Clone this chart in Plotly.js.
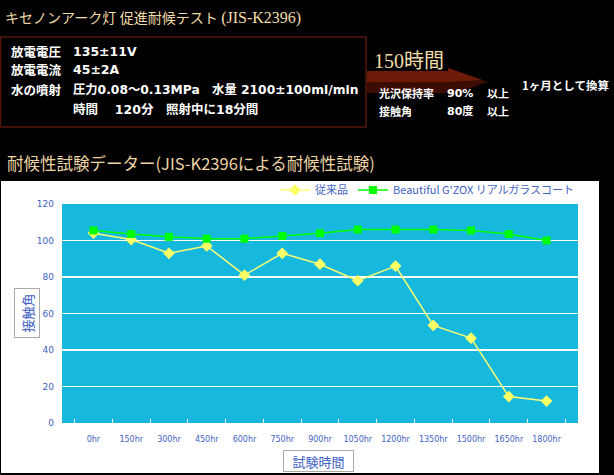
<!DOCTYPE html>
<html>
<head>
<meta charset="utf-8">
<script src="https://cdn.plot.ly/plotly-3.0.1.min.js"></script>
<style>
html,body{margin:0;padding:0;background:#000;}
#chart{width:614px;height:475px;}
</style>
</head>
<body>
<div id="chart"></div>
<script>
// ---- data ----
var categories = ['0hr','150hr','300hr','450hr','600hr','750hr','900hr','1050hr','1200hr','1350hr','1500hr','1650hr','1800hr'];
var conventional = [104, 100.5, 93, 97, 81, 93, 87, 78, 86, 53.5, 46.5, 14.5, 12];
var gzox = [105.5, 103.5, 102, 101, 101, 102.5, 104, 106, 106, 106, 105.5, 103.5, 100];
var seriesNames = ['従来品', "Beautiful G'ZOX リアルガラスコート"];
var yTicks = [0, 20, 40, 60, 80, 100, 120];

// ---- layout helpers (pixel -> paper) ----
var W = 614, H = 475;
var L = 62, R = 578, T = 204, B = 423;
function px(x){ return (x - L) / (R - L); }
function py(y){ return (B - y) / (B - T); }

var JP = 'Noto Sans CJK JP, sans-serif';
var JPW = 'DejaVu Sans, Noto Sans CJK JP, sans-serif';
var SERIF = 'Liberation Serif, DejaVu Serif, Noto Sans CJK JP, serif';
var BLUE = '#4262c4';

function txt(x, y, text, size, color, family){
  return {xref:'paper', yref:'paper', x:px(x), y:py(y), text:text, showarrow:false,
    xanchor:'left', yanchor:'middle', font:{family:family || JP, size:size, color:color}};
}

var annotations = [
  txt(3, 18, 'キセノンアーク灯 促進耐候テスト <span style="font-size:16px">(JIS-K2396)</span>', 14, '#f0dca8', SERIF),
  txt(9, 51, '<b>放電電圧</b>', 12.5, '#fff'),
  txt(71, 51, '<b>135±11V</b>', 12.5, '#fff', JPW),
  txt(9, 70, '<b>放電電流</b>', 12.5, '#fff'),
  txt(71, 70, '<b>45±2A</b>', 12.5, '#fff', JPW),
  txt(9, 90, '<b>水の噴射</b>', 12.5, '#fff'),
  txt(71, 90, '<b>圧力0.08〜0.13MPa　水量 2100±100ml/min</b>', 12.3, '#fff', JPW),
  txt(71, 109, '<b>時間　 120分　照射中に18分間</b>', 12.5, '#fff', JPW),
  txt(372, 61, '150時間', 20, '#f0dca8', SERIF),
  txt(377, 93, '<b>光沢保持率</b>', 11, '#fff'),
  txt(445, 93, '<b>90%</b>', 11, '#fff', JPW),
  txt(485, 93, '<b>以上</b>', 11, '#fff'),
  txt(377, 111, '<b>接触角</b>', 11, '#fff'),
  txt(445, 111, '<b>80度</b>', 11, '#fff', JPW),
  txt(485, 111, '<b>以上</b>', 11, '#fff'),
  txt(520, 85, '<b>1ヶ月として換算</b>', 11.5, '#fff'),
  txt(5, 163, '耐候性試験データー(JIS-K2396による耐候性試験)', 16.5, '#ecd4a4'),
  // axis titles with boxes
  {xref:'paper', yref:'paper', x:px(27), y:py(313), text:'接触角', showarrow:false,
   xanchor:'center', yanchor:'middle', textangle:-90, font:{family:JP, size:13, color:BLUE},
   bordercolor:'#aaaaaa', borderwidth:1, borderpad:1, width:46, height:22},
  {xref:'paper', yref:'paper', x:px(318.5), y:py(461), text:'試験時間', showarrow:false,
   xanchor:'center', yanchor:'middle', font:{family:JP, size:13, color:BLUE},
   bordercolor:'#aaaaaa', borderwidth:1, borderpad:1, width:67, height:18}
];

var shapes = [
  // white chart panel
  {type:'rect', xref:'paper', yref:'paper', x0:px(1), x1:px(599), y0:py(473), y1:py(181),
   fillcolor:'#ffffff', line:{width:0}, layer:'below'},
  // plot area background
  {type:'rect', xref:'x domain', yref:'y domain', x0:0, x1:1, y0:0, y1:1,
   fillcolor:'#16b8de', line:{width:0}, layer:'below'},
  // info box
  {type:'rect', xref:'paper', yref:'paper', x0:px(0.5), x1:px(366), y0:py(127), y1:py(37),
   fillcolor:'rgba(0,0,0,0)', line:{color:'#55170a', width:1.5}, layer:'above'},
  // arrow (dark base)
  {type:'path', xref:'paper', yref:'paper', layer:'below', line:{width:0}, fillcolor:'#3a0c04',
   path:'M'+px(367)+','+py(71)+' L'+px(448)+','+py(71)+' L'+px(448)+','+py(68)+' L'+px(488)+','+py(82)+
        ' L'+px(448)+','+py(96)+' L'+px(448)+','+py(93)+' L'+px(367)+','+py(93)+' Z'},
  // arrow highlight (upper)
  {type:'path', xref:'paper', yref:'paper', layer:'below', line:{width:0}, fillcolor:'#6e1a08',
   path:'M'+px(367)+','+py(71)+' L'+px(448)+','+py(71)+' L'+px(448)+','+py(68)+' L'+px(482)+','+py(80)+
        ' L'+px(448)+','+py(82)+' L'+px(367)+','+py(82)+' Z'}
];

var traces = [
  {type:'scatter', mode:'lines+markers', name:seriesNames[0], x:categories, y:conventional,
   line:{color:'#ffff70', width:1.5}, marker:{symbol:'diamond', size:9, color:'#ffff66'}},
  {type:'scatter', mode:'lines+markers', name:seriesNames[1], x:categories, y:gzox,
   line:{color:'#00ff00', width:1.5}, marker:{symbol:'square', size:8, color:'#00ff00'}}
];

var layout = {
  width:W, height:H,
  margin:{l:L, r:W-R, t:T, b:H-B, pad:0},
  paper_bgcolor:'#000000',
  plot_bgcolor:'#16b8de',
  showlegend:true,
  legend:{orientation:'h', x:px(580), xanchor:'right', y:py(190), yanchor:'middle',
    bgcolor:'rgba(0,0,0,0)', font:{family:JP, size:11, color:BLUE}, itemwidth:30},
  xaxis:{type:'category', categoryorder:'array', categoryarray:categories,
    showgrid:false, zeroline:false, showline:false, tickangle:0, automargin:false,
    ticks:'inside', tickson:'boundaries', ticklen:4, tickcolor:'#ffffff', tickwidth:1,
    tickfont:{family:'DejaVu Sans, sans-serif', size:8, color:BLUE},
    ticklabelstandoff:10, fixedrange:true},
  yaxis:{range:[0,120], tickmode:'array', tickvals:yTicks, ticktext:yTicks.map(String),
    showgrid:true, gridcolor:'#ffffff', gridwidth:1.5, zeroline:false, showline:false,
    ticks:'', tickfont:{family:'DejaVu Sans, sans-serif', size:9, color:BLUE},
    ticklabelstandoff:7, fixedrange:true},
  annotations:annotations,
  shapes:shapes
};

Plotly.newPlot('chart', traces, layout, {displayModeBar:false, staticPlot:true});
</script>
</body>
</html>
